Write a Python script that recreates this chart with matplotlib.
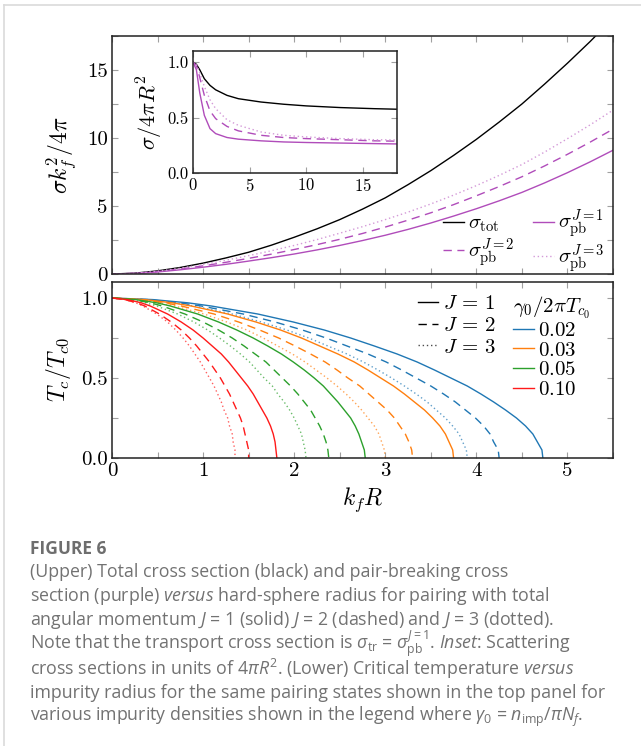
"""
Cross sections and critical temperature vs hard-sphere radius (Figure 6)
"""
import matplotlib
matplotlib.use('Agg')
import matplotlib.pyplot as plt
from matplotlib.lines import Line2D
from matplotlib.ticker import MultipleLocator

plt.rcParams['font.family'] = 'serif'
plt.rcParams['font.serif'] = ['cmr10', 'DejaVu Serif']
plt.rcParams['mathtext.fontset'] = 'cm'
plt.rcParams['axes.formatter.use_mathtext'] = True
plt.rcParams['mathtext.rm'] = 'Open Sans'
plt.rcParams['mathtext.it'] = 'Open Sans:italic'

# --- upper panel: sigma k_f^2 / 4 pi versus k_f R
kfr_top = [0, 0.25, 0.5, 0.75, 1, 1.25, 1.5, 1.75, 2, 2.25, 2.5, 2.75, 3,
           3.25, 3.5, 3.75, 4, 4.25, 4.5, 4.75, 5, 5.25, 5.5]
sig_tot = [0, 0.06, 0.23, 0.48, 0.8, 1.18, 1.6, 2.12, 2.7, 3.32, 4.0, 4.77, 5.6,
           6.57, 7.6, 8.72, 9.9, 11.17, 12.5, 13.97, 15.5, 17.1, 18.8]
sig_pb1 = [0, 0.04, 0.15, 0.31, 0.5, 0.71, 0.95, 1.2, 1.47, 1.77, 2.1, 2.46, 2.85,
           3.28, 3.75, 4.26, 4.8, 5.38, 6.0, 6.7, 7.45, 8.25, 9.1]
sig_pb2 = [0, 0.05, 0.18, 0.37, 0.6, 0.86, 1.15, 1.46, 1.8, 2.16, 2.55, 2.98, 3.45,
           3.96, 4.5, 5.1, 5.75, 6.43, 7.15, 7.95, 8.8, 9.7, 10.65]
sig_pb3 = [0, 0.05, 0.2, 0.43, 0.7, 1.01, 1.35, 1.71, 2.1, 2.53, 3.0, 3.48, 4.0,
           4.55, 5.15, 5.8, 6.5, 7.25, 8.05, 8.97, 9.95, 10.97, 12.05]

# --- inset: sigma / 4 pi R^2
kfr_in = [0, 0.3, 0.6, 1.0, 1.5, 2, 3, 4, 6, 8, 10, 13, 16, 18]
ins_tot = [1.0, 0.98, 0.93, 0.85, 0.79, 0.75, 0.70, 0.67, 0.64, 0.62, 0.605, 0.59, 0.58, 0.575]
ins_pb1 = [1.0, 0.93, 0.72, 0.52, 0.40, 0.355, 0.32, 0.305, 0.29, 0.28, 0.275, 0.27, 0.265, 0.262]
ins_pb2 = [1.0, 0.97, 0.86, 0.70, 0.56, 0.49, 0.42, 0.38, 0.34, 0.32, 0.31, 0.30, 0.29, 0.287]
ins_pb3 = [1.0, 0.98, 0.90, 0.78, 0.66, 0.58, 0.48, 0.43, 0.37, 0.34, 0.325, 0.31, 0.30, 0.298]

# --- lower panel: Tc/Tc0 levels and the k_f R where each curve reaches them
tc_levels = [1.0, 0.99, 0.97, 0.95, 0.9, 0.85, 0.8, 0.75, 0.7, 0.65, 0.6, 0.55,
             0.5, 0.45, 0.4, 0.35, 0.3, 0.25, 0.2, 0.15, 0.1, 0.05, 0.0]
gammas = ['0.02', '0.03', '0.05', '0.10']
kfr_tc = {
    ('0.02', 1): [0, 0.45, 0.83, 1.09, 1.60, 1.99, 2.33, 2.62, 2.88, 3.13, 3.35, 3.54,
                  3.72, 3.90, 4.05, 4.19, 4.32, 4.44, 4.54, 4.62, 4.67, 4.72, 4.73],
    ('0.02', 2): [0, 0.40, 0.74, 0.98, 1.44, 1.79, 2.09, 2.35, 2.58, 2.81, 3.01, 3.18,
                  3.34, 3.50, 3.64, 3.77, 3.88, 3.99, 4.08, 4.15, 4.19, 4.24, 4.25],
    ('0.02', 3): [0, 0.37, 0.68, 0.90, 1.32, 1.64, 1.92, 2.16, 2.37, 2.58, 2.76, 2.92,
                  3.07, 3.21, 3.34, 3.46, 3.56, 3.66, 3.74, 3.81, 3.85, 3.89, 3.90],
    ('0.03', 1): [0, 0.36, 0.66, 0.87, 1.27, 1.58, 1.85, 2.08, 2.28, 2.48, 2.66, 2.81,
                  2.95, 3.09, 3.21, 3.32, 3.43, 3.52, 3.60, 3.66, 3.70, 3.74, 3.75],
    ('0.03', 2): [0, 0.31, 0.58, 0.76, 1.12, 1.39, 1.62, 1.83, 2.01, 2.18, 2.34, 2.47,
                  2.59, 2.72, 2.82, 2.92, 3.02, 3.10, 3.16, 3.22, 3.26, 3.29, 3.30],
    ('0.03', 3): [0, 0.29, 0.53, 0.69, 1.01, 1.26, 1.48, 1.66, 1.82, 1.98, 2.12, 2.24,
                  2.36, 2.47, 2.57, 2.66, 2.74, 2.81, 2.88, 2.93, 2.96, 2.99, 3.00],
    ('0.05', 1): [0, 0.26, 0.49, 0.64, 0.94, 1.17, 1.37, 1.55, 1.71, 1.86, 1.99, 2.11,
                  2.22, 2.32, 2.40, 2.48, 2.55, 2.62, 2.67, 2.71, 2.74, 2.77, 2.78],
    ('0.05', 2): [0, 0.23, 0.42, 0.55, 0.80, 1.00, 1.17, 1.32, 1.45, 1.57, 1.69, 1.78,
                  1.87, 1.96, 2.04, 2.11, 2.18, 2.23, 2.28, 2.32, 2.35, 2.37, 2.38],
    ('0.05', 3): [0, 0.20, 0.37, 0.49, 0.72, 0.90, 1.05, 1.18, 1.30, 1.41, 1.51, 1.59,
                  1.67, 1.76, 1.82, 1.89, 1.95, 2.00, 2.04, 2.08, 2.10, 2.12, 2.13],
    ('0.10', 1): [0, 0.17, 0.32, 0.42, 0.61, 0.76, 0.89, 1.00, 1.10, 1.20, 1.28, 1.35,
                  1.42, 1.49, 1.55, 1.60, 1.65, 1.70, 1.74, 1.77, 1.79, 1.80, 1.81],
    ('0.10', 2): [0, 0.14, 0.27, 0.36, 0.52, 0.65, 0.76, 0.85, 0.93, 1.00, 1.07, 1.13,
                  1.19, 1.24, 1.29, 1.33, 1.37, 1.41, 1.44, 1.46, 1.48, 1.50, 1.50],
    ('0.10', 3): [0, 0.14, 0.26, 0.34, 0.49, 0.61, 0.70, 0.78, 0.85, 0.91, 0.97, 1.02,
                  1.07, 1.12, 1.16, 1.20, 1.23, 1.27, 1.29, 1.32, 1.33, 1.35, 1.35],
}

caption_lines = [
    "(Upper) Total cross section (black) and pair-breaking cross",
    r"section (purple) $\mathit{versus}$ hard-sphere radius for pairing with total",
    r"angular momentum $J$ = 1 (solid) $J$ = 2 (dashed) and $J$ = 3 (dotted).",
    r"Note that the transport cross section is $\sigma_{\mathrm{tr}}$ = "
    r"$\sigma_{\mathrm{pb}}^{J=1}$. $\mathit{Inset}$: Scattering",
    r"cross sections in units of 4$\pi R^2$. (Lower) Critical temperature $\mathit{versus}$",
    "impurity radius for the same pairing states shown in the top panel for",
    r"various impurity densities shown in the legend where $\gamma_0$ = "
    r"$n_{\mathrm{imp}}/\pi N_f$.",
]

purple = '#b04cba'
purple_light = '#d49ad8'
colors = {'0.02': '#1f77b4', '0.03': '#ff7f0e', '0.05': '#2ca02c', '0.10': '#ff1a1a'}
styles = {1: dict(ls='-'), 2: dict(ls=(0, (6, 4))), 3: dict(ls=(0, (1, 2)), alpha=0.7)}
tickcol = '#a0a0a0'


def style_axes(ax, size):
    ax.tick_params(which='both', direction='in', top=True, right=True,
                   color=tickcol, length=4, width=0.8, labelsize=size, pad=3)
    for sp in ax.spines.values():
        sp.set_linewidth(1.1)
        sp.set_color('#222222')


fig = plt.figure(figsize=(6.41, 7.46), dpi=100)
W, H = 641, 746


def box(x0, y0, x1, y1):
    return [x0 / W, 1 - y1 / H, (x1 - x0) / W, (y1 - y0) / H]


# card border
fig.add_artist(Line2D([4 / W, 1], [1 - 5 / H] * 2, color='#dadada', lw=1.2))
fig.add_artist(Line2D([4 / W] * 2, [0, 1 - 5 / H], color='#dadada', lw=1.2))

# Upper panel
ax1 = fig.add_axes(box(112, 36, 613, 274))
ax1.plot(kfr_top, sig_tot, color='black', lw=1.0, label=r'$\sigma_{\rm tot}$')
ax1.plot(kfr_top, sig_pb1, color=purple, lw=1.0, label=r'$\sigma_{\rm pb}^{J=1}$')
ax1.plot(kfr_top, sig_pb2, color=purple, lw=1.0, ls=(0, (6, 4)),
         label=r'$\sigma_{\rm pb}^{J=2}$')
ax1.plot(kfr_top, sig_pb3, color=purple_light, lw=1.0, ls=(0, (1, 2)),
         label=r'$\sigma_{\rm pb}^{J=3}$')
ax1.set_xlim(0, 5.5)
ax1.set_ylim(0, 17.5)
ax1.xaxis.set_major_locator(MultipleLocator(0.5))
ax1.set_xticklabels([])
ax1.yaxis.set_major_locator(MultipleLocator(5))
ax1.yaxis.set_minor_locator(MultipleLocator(2.5))
ax1.yaxis.set_major_formatter(plt.FuncFormatter(lambda v, p: '%d' % v))
style_axes(ax1, 15)
ax1.set_ylabel(r'$\sigma k_f^2/4\pi$', fontsize=17, labelpad=6)
h, l = ax1.get_legend_handles_labels()
order = [0, 2, 1, 3]
ax1.legend([h[i] for i in order], [l[i] for i in order], ncol=2, frameon=False,
           loc='lower right', bbox_to_anchor=(1.0, -0.04), fontsize=15,
           handlelength=1.0, handletextpad=0.2, columnspacing=0.9,
           labelspacing=0.1, borderaxespad=0.3, borderpad=0.1)

# Inset
axi = fig.add_axes(box(193, 51, 397, 173))
axi.plot(kfr_in, ins_tot, color='black', lw=1.0)
axi.plot(kfr_in, ins_pb1, color=purple, lw=1.0)
axi.plot(kfr_in, ins_pb2, color=purple, lw=1.0, ls=(0, (6, 4)))
axi.plot(kfr_in, ins_pb3, color=purple_light, lw=1.0, ls=(0, (1, 2)))
axi.set_xlim(0, 18)
axi.set_ylim(0, 1.1)
axi.xaxis.set_major_locator(MultipleLocator(5))
axi.yaxis.set_major_locator(MultipleLocator(0.5))
axi.yaxis.set_major_formatter(plt.FuncFormatter(lambda v, p: '%.1f' % v))
style_axes(axi, 12)
axi.set_ylabel(r'$\sigma/4\pi R^2$', fontsize=16, labelpad=2)

# Lower panel
ax2 = fig.add_axes(box(112, 282, 613, 458))
for g in gammas:
    for j in (3, 2, 1):
        ax2.plot(kfr_tc[(g, j)], tc_levels, color=colors[g], lw=1.0, **styles[j])
ax2.set_xlim(0, 5.5)
ax2.set_ylim(0, 1.1)
ax2.xaxis.set_major_locator(MultipleLocator(1))
ax2.xaxis.set_minor_locator(MultipleLocator(0.5))
ax2.xaxis.set_major_formatter(plt.FuncFormatter(lambda v, p: '%d' % v))
ax2.yaxis.set_major_locator(MultipleLocator(0.5))
ax2.yaxis.set_minor_locator(MultipleLocator(0.25))
ax2.yaxis.set_major_formatter(plt.FuncFormatter(lambda v, p: '%.1f' % v))
style_axes(ax2, 15)
ax2.set_xlabel(r'$k_f R$', fontsize=17, labelpad=4)
ax2.set_ylabel(r'$T_c/T_{c0}$', fontsize=17, labelpad=6)

jh = [Line2D([], [], color='black', lw=1.0, **styles[j]) for j in (1, 2, 3)]
leg1 = ax2.legend(jh, [r'$J\,=\,1$', r'$J\,=\,2$', r'$J\,=\,3$'], frameon=False,
                  loc='upper left', bbox_to_anchor=(0.585, 1.0), fontsize=15,
                  handlelength=1.0, handletextpad=0.2, labelspacing=0.15,
                  borderaxespad=0.2)
ax2.add_artist(leg1)
gh = [Line2D([], [], color=colors[g], lw=1.0) for g in gammas]
ax2.legend(gh, [r'$%s$' % g for g in gammas], frameon=False,
           title=r'$\gamma_0/2\pi T_{c_0}$', title_fontsize=15, alignment='left',
           loc='upper left', bbox_to_anchor=(0.775, 1.0), fontsize=15,
           handlelength=1.0, handletextpad=0.2, labelspacing=0.05,
           borderaxespad=0.2)

# Caption
fig.text(30 / W, 1 - 549 / H, 'FIGURE 6', family='Open Sans', fontsize=12.5,
         color='#6e6e6e', va='center', weight='bold')
for i, line in enumerate(caption_lines):
    fig.text(30 / W, 1 - (572 + 24.2 * i) / H, line, family='Open Sans',
             fontsize=12.8, color='#727272', va='center', math_fontfamily='custom')

fig.savefig('out.png', dpi=100)
